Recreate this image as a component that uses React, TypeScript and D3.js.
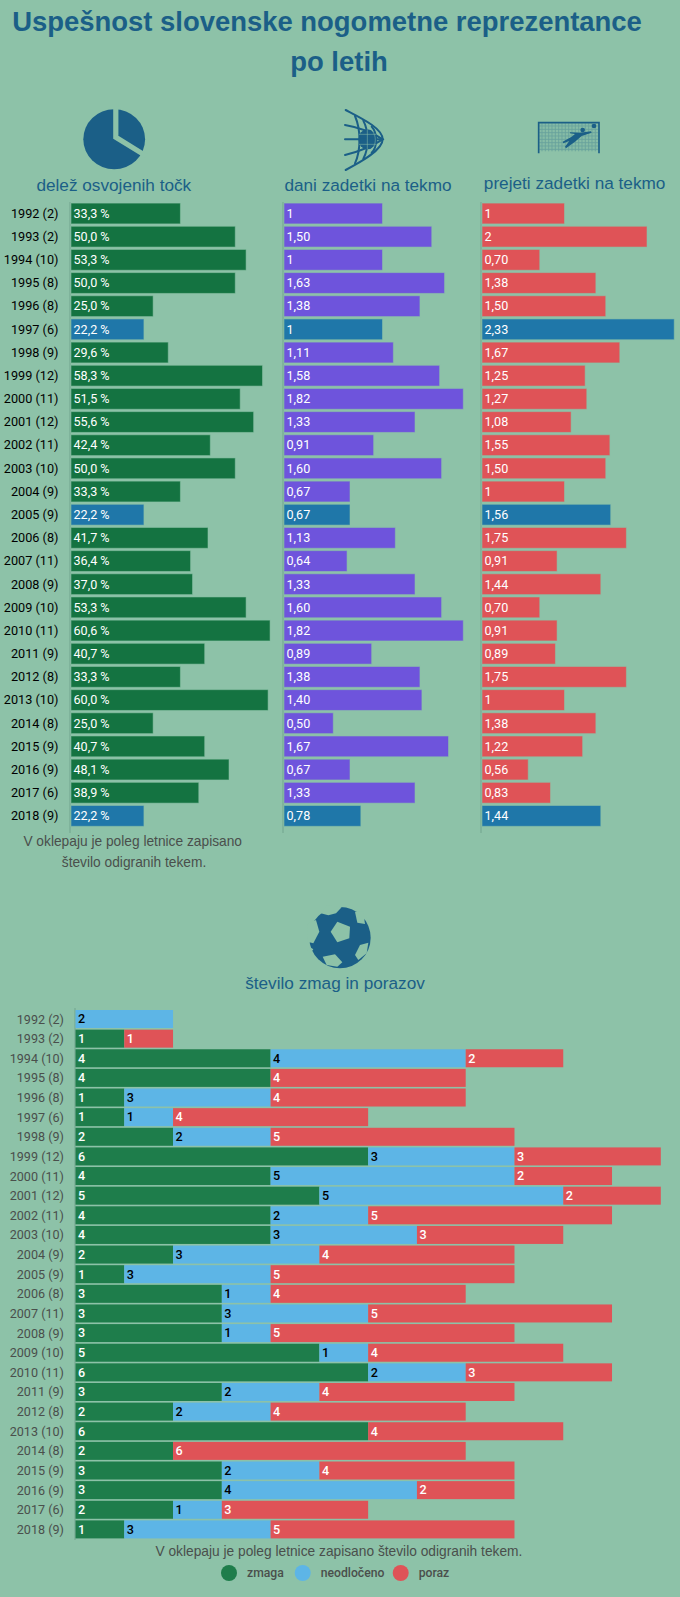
import React from "react";
import * as d3 from "d3";

const years = ["1992 (2)","1993 (2)","1994 (10)","1995 (8)","1996 (8)","1997 (6)","1998 (9)","1999 (12)","2000 (11)","2001 (12)","2002 (11)","2003 (10)","2004 (9)","2005 (9)","2006 (8)","2007 (11)","2008 (9)","2009 (10)","2010 (11)","2011 (9)","2012 (8)","2013 (10)","2014 (8)","2015 (9)","2016 (9)","2017 (6)","2018 (9)"];
const pointsShare = [33.3,50,53.3,50,25,22.2,29.6,58.3,51.5,55.6,42.4,50,33.3,22.2,41.7,36.4,37,53.3,60.6,40.7,33.3,60,25,40.7,48.1,38.9,22.2];
const goalsFor = [1,1.5,1,1.63,1.38,1,1.11,1.58,1.82,1.33,0.91,1.6,0.67,0.67,1.13,0.64,1.33,1.6,1.82,0.89,1.38,1.4,0.5,1.67,0.67,1.33,0.78];
const goalsAgainst = [1,2,0.7,1.38,1.5,2.33,1.67,1.25,1.27,1.08,1.55,1.5,1,1.56,1.75,0.91,1.44,0.7,0.91,0.89,1.75,1,1.38,1.22,0.56,0.83,1.44];
const highlighted = ["1997 (6)","2005 (9)","2018 (9)"];
const wins = [0,1,4,4,1,1,2,6,4,5,4,4,2,1,3,3,3,5,6,3,2,6,2,3,3,2,1];
const draws = [2,0,4,0,3,1,2,3,5,5,2,3,3,3,1,3,1,1,2,2,2,0,0,2,4,1,3];
const losses = [0,1,2,4,4,4,5,3,2,2,5,3,4,5,4,5,5,4,3,4,4,4,6,4,2,3,5];
const legendItems = ["zmaga","neodločeno","poraz"];

const BG = "#8DC2A8", INK = "#1B5F87", BLUE = "#1F77A9", GREEN = "#147341", PURPLE = "#6E54DC", RED = "#DF5357";
const GREEN2 = "#1E7D4B", SKY = "#5DB5E6", AXIS = "#7BAE97", EDGE = "rgba(141,194,168,0.55)";
const ROBOTO = "Roboto, sans-serif", ARIAL = "'Liberation Sans', Arial, sans-serif";
const fmt = (v: number) => (v === 1 || v === 2 ? String(v) : v.toFixed(2).replace(".", ","));
const fmtP = (v: number) => v.toFixed(1).replace(".", ",") + " %";

const topY = d3.scalePoint<string>().domain(years).range([213.5, 815.9]);
const botY = d3.scalePoint<string>().domain(years).range([1019, 1529.4]);

function Column({ x0, k, values, color, label }: { x0: number; k: number; values: number[]; color: string; label: (v: number) => string }) {
  const x = d3.scaleLinear().domain([0, 1]).range([x0, x0 + k]);
  return (
    <g>
      <line x1={x0 - 1} x2={x0 - 1} y1={202} y2={833} stroke={AXIS} strokeWidth={1.5} />
      {values.map((v, i) => {
        const y = topY(years[i])!;
        return (
          <g key={i}>
            <rect x={x0} y={y - 10.4} width={x(v) - x0} height={20.8} fill={highlighted.includes(years[i]) ? BLUE : color} stroke={EDGE} strokeWidth={1} />
            <text x={x0 + 2.5} y={y + 4.3} fontFamily={ROBOTO} fontSize={12.6} fill="#fff">{label(v)}</text>
          </g>
        );
      })}
    </g>
  );
}

function PieIcon() {
  return (
    <g>
      <ellipse cx={114.2} cy={139.3} rx={30.9} ry={30} fill={INK} />
      <path d="M115.8,104 V137.2 L146,155.9" fill="none" stroke={BG} strokeWidth={5.2} />
    </g>
  );
}

function NetIcon() {
  const curves = [
    "M32,30 C80,55 143,85 143,118 C143,150 80,185 32,210",
    "M30,75 C70,82 110,95 143,118 C110,140 70,155 30,165",
    "M30,118 H143",
    "M60,48 C78,90 78,150 60,190",
    "M85,62 C102,95 102,145 85,176",
    "M110,80 C128,100 128,140 110,158",
  ];
  return (
    <g transform="translate(335,100) scale(0.3333)">
      <ellipse cx={97} cy={118} rx={27} ry={30} fill={INK} />
      <g fill="none" stroke={INK} strokeWidth={6} strokeLinecap="round">
        {curves.map((d, i) => <path key={i} d={d} />)}
      </g>
      <path d="M97,88 V148 M72,103 H124 M72,133 H124 M112,92 C124,110 124,130 112,146" fill="none" stroke={BG} strokeWidth={2} opacity={0.75} />
    </g>
  );
}

function GoalIcon() {
  const gx = d3.range(36, 200, 10), gy = d3.range(48, 122, 10);
  return (
    <g transform="translate(530,110) scale(0.3333)">
      <rect x={28} y={40} width={176} height={82} fill={INK} opacity={0.06} />
      <g stroke={INK} strokeWidth={2.6} opacity={0.28}>
        {gx.map(x => <line key={x} x1={x} x2={x} y1={40} y2={124} />)}
        {gy.map(y => <line key={y} x1={28} x2={204} y1={y} y2={y} />)}
      </g>
      <path d="M26,130 V38 H207 V130" fill="none" stroke={INK} strokeWidth={5} />
      <circle cx={192} cy={48} r={7} fill={INK} />
      <circle cx={158} cy={60} r={7} fill={INK} />
      <path d="M120,67 L150,68 L183,64 L185,68 L155,78 L135,95 L108,115 L105,110 L118,93 L100,100 L98,95 L125,80 L135,72 L120,70 Z" fill={INK} />
    </g>
  );
}

function BallIcon() {
  const holes = [
    "M92,95 L112,65 L150,80 L148,115 L112,127 Z",
    "M68,170 L105,163 L127,187 L112,200 L80,195 Z",
    "M180,135 L205,128 L200,160 L175,180 L165,165 Z",
  ];
  const notches = [
    "M62,40 L85,46 L108,40 L125,22 L80,15 Z",
    "M165,35 L172,68 L195,72 L190,35 Z",
    "M48,60 L58,95 L40,130 L22,125 L24,70 Z",
    "M28,140 L40,148 L32,158 L22,150 Z",
  ];
  return (
    <g transform="translate(300,900) scale(0.3333)">
      <circle cx={120} cy={113} r={92} fill={INK} />
      {holes.map((d, i) => <path key={i} d={d} fill={BG} />)}
      {notches.map((d, i) => <path key={i} d={d} fill={BG} />)}
    </g>
  );
}

export default function App() {
  const xB = d3.scaleLinear().domain([0, 12]).range([75.5, 660.8]);
  const legendX = [229, 302.7, 400.7];
  const legendColor = d3.scaleOrdinal<string>().domain(legendItems).range([GREEN2, SKY, RED]);
  const stack = d3.stack<number>().keys(["w", "d", "l"]).value((i, k) => (k === "w" ? wins : k === "d" ? draws : losses)[i]);
  const layers = stack(years.map((_, i) => i));
  const fills = [GREEN2, SKY, RED];
  const txt = ["#fff", "#000", "#fff"];
  return (
    <svg width={680} height={1597} style={{ position: "absolute", left: 0, top: 0, background: BG, display: "block" }}>
      <rect width={680} height={1597} fill={BG} />
      <g fontFamily={ARIAL} fill={INK} textAnchor="middle">
        <text x={327} y={31} fontSize={27.45} fontWeight={700}>Uspešnost slovenske nogometne reprezentance</text>
        <text x={339} y={71} fontSize={27.45} fontWeight={700}>po letih</text>
        <text x={113.8} y={191} fontSize={17.2}>delež osvojenih točk</text>
        <text x={368} y={191} fontSize={17.2}>dani zadetki na tekmo</text>
        <text x={574.6} y={189} fontSize={17.2}>prejeti zadetki na tekmo</text>
        <text x={335} y={989} fontSize={17.2}>število zmag in porazov</text>
      </g>
      <PieIcon />
      <NetIcon />
      <GoalIcon />
      <BallIcon />
      {years.map(y => (
        <text key={y} x={58.5} y={topY(y)! + 4.3} textAnchor="end" fontFamily={ROBOTO} fontSize={12.7} fill="#000">{y}</text>
      ))}
      <Column x0={71} k={3.285} values={pointsShare} color={GREEN} label={fmtP} />
      <Column x0={284} k={98.5} values={goalsFor} color={PURPLE} label={fmt} />
      <Column x0={482} k={82.5} values={goalsAgainst} color={RED} label={fmt} />
      <g fontFamily={ARIAL} fontSize={13.75} fill="#4A4F4C" textAnchor="middle">
        <text x={132.7} y={846}>V oklepaju je poleg letnice zapisano</text>
        <text x={134} y={867}>število odigranih tekem.</text>
        <text x={338.9} y={1556}>V oklepaju je poleg letnice zapisano število odigranih tekem.</text>
      </g>
      <line x1={75} x2={75} y1={1008} y2={1540} stroke={AXIS} strokeWidth={1.5} />
      {years.map(y => (
        <text key={y} x={64} y={botY(y)! + 4.5} textAnchor="end" fontFamily={ROBOTO} fontSize={12.6} fill="#4A4F4C">{y}</text>
      ))}
      {layers.map((layer, li) => (
        <g key={li}>
          {layer.map((s, i) => {
            const v = s[1] - s[0];
            if (!v) return null;
            const y = botY(years[i])!;
            return (
              <g key={i}>
                <rect x={xB(s[0])} y={y - 9} width={xB(s[1]) - xB(s[0])} height={18} fill={fills[li]} />
                <text x={xB(s[0]) + 2.5} y={y + 4.3} fontFamily={ROBOTO} fontWeight={500} fontSize={12.6} fill={txt[li]}>{v}</text>
              </g>
            );
          })}
        </g>
      ))}
      {legendItems.map((t, i) => (
        <g key={t}>
          <circle cx={legendX[i]} cy={1573} r={8} fill={legendColor(t)} />
          <text x={legendX[i] + 18} y={1577} fontFamily={ROBOTO} fontWeight={500} fontSize={12.2} fill="#4A4F4C">{t}</text>
        </g>
      ))}
    </svg>
  );
}
